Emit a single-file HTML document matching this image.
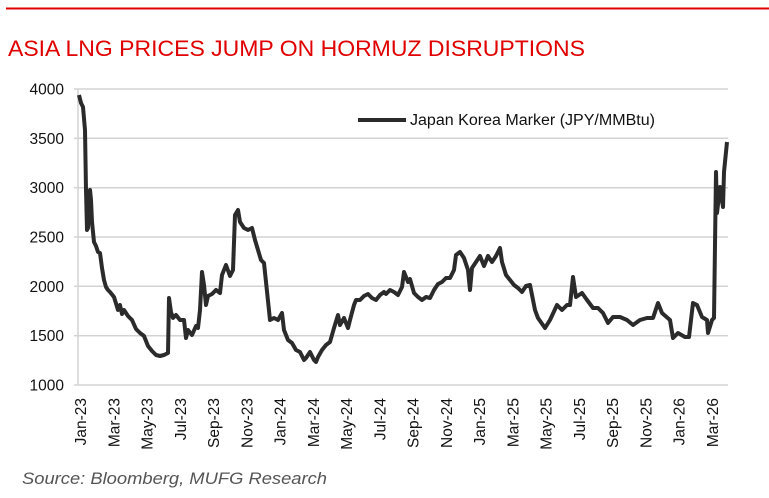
<!DOCTYPE html>
<html><head><style>
body{margin:0;background:#fff;width:769px;height:493px;overflow:hidden;font-family:"Liberation Sans",Arial,sans-serif}
</style></head><body>
<svg width="769" height="493" xmlns="http://www.w3.org/2000/svg" font-family="Liberation Sans, Arial, sans-serif">
<line x1="6" y1="8.5" x2="769" y2="8.5" stroke="#e00000" stroke-width="2"/>
<text x="8" y="56" font-size="22.5" fill="#e00000" textLength="577" lengthAdjust="spacingAndGlyphs">ASIA LNG PRICES JUMP ON HORMUZ DISRUPTIONS</text>
<g stroke="#d3d3d3" stroke-width="1.5">
<line x1="78" y1="89" x2="728" y2="89"/><line x1="78" y1="138.3" x2="728" y2="138.3"/>
<line x1="78" y1="187.7" x2="728" y2="187.7"/><line x1="78" y1="237" x2="728" y2="237"/>
<line x1="78" y1="286.3" x2="728" y2="286.3"/><line x1="78" y1="335.7" x2="728" y2="335.7"/>
<line x1="78" y1="385" x2="728" y2="385"/><line x1="78" y1="89" x2="78" y2="385"/>
<line x1="74" y1="89" x2="78" y2="89"/><line x1="74" y1="138.3" x2="78" y2="138.3"/><line x1="74" y1="187.7" x2="78" y2="187.7"/><line x1="74" y1="237" x2="78" y2="237"/><line x1="74" y1="286.3" x2="78" y2="286.3"/><line x1="74" y1="335.7" x2="78" y2="335.7"/><line x1="74" y1="385" x2="78" y2="385"/>
</g>
<g font-size="15.5" fill="#111" text-anchor="end">
<text x="64" y="94.5">4000</text><text x="64" y="144">3500</text><text x="64" y="193">3000</text><text x="64" y="242.5">2500</text><text x="64" y="292">2000</text><text x="64" y="341">1500</text><text x="64" y="390.5">1000</text>
</g>
<g font-size="15.5" fill="#111" text-anchor="end">
<text transform="translate(86,398) rotate(-90)">Jan-23</text>
<text transform="translate(119.3,398) rotate(-90)">Mar-23</text>
<text transform="translate(152.5,398) rotate(-90)">May-23</text>
<text transform="translate(185.8,398) rotate(-90)">Jul-23</text>
<text transform="translate(219,398) rotate(-90)">Sep-23</text>
<text transform="translate(252.3,398) rotate(-90)">Nov-23</text>
<text transform="translate(285.6,398) rotate(-90)">Jan-24</text>
<text transform="translate(318.8,398) rotate(-90)">Mar-24</text>
<text transform="translate(352.1,398) rotate(-90)">May-24</text>
<text transform="translate(385.3,398) rotate(-90)">Jul-24</text>
<text transform="translate(418.6,398) rotate(-90)">Sep-24</text>
<text transform="translate(451.9,398) rotate(-90)">Nov-24</text>
<text transform="translate(485.1,398) rotate(-90)">Jan-25</text>
<text transform="translate(518.4,398) rotate(-90)">Mar-25</text>
<text transform="translate(551.6,398) rotate(-90)">May-25</text>
<text transform="translate(584.9,398) rotate(-90)">Jul-25</text>
<text transform="translate(618.2,398) rotate(-90)">Sep-25</text>
<text transform="translate(651.4,398) rotate(-90)">Nov-25</text>
<text transform="translate(684.7,398) rotate(-90)">Jan-26</text>
<text transform="translate(717.9,398) rotate(-90)">Mar-26</text>
</g>
<polyline fill="none" stroke="#2b2b2b" stroke-width="4" stroke-linejoin="round" points="79,95 81,103 83,107 85,130 86,190 87,230 88,228 90,190 91,200 92,222 94,242 96,246 98,252 100,253 102,268 104,280 106,287 108,290 110,292 114,297 118,310 120,305 122,314 124,310 128,316 132,320 136,329 140,333 144,336 148,346 152,351 156,355 160,356 164,355 168,353 169,298 171,312 173,318 176,315 180,320 184,320 186,338 188,330 192,335 196,326 198,328 200,310 202,272 204,285 206,305 208,296 212,294 216,290 220,293 222,275 226,265 230,276 233,270 235,215 238,210 240,222 244,228 248,230 252,228 255,240 258,250 261,260 264,263 270,320 274,318 278,320 282,313 284,330 288,340 292,343 296,350 300,352 304,360 306,358 310,352 314,360 316,362 318,357 322,350 326,345 330,342 334,328 338,315 340,325 344,318 348,328 350,320 354,305 356,300 360,300 364,296 368,294 372,298 376,300 380,295 384,292 386,294 390,290 394,292 398,295 402,287 404,272 408,282 410,279 414,293 418,297 422,300 426,297 430,298 434,290 438,284 442,282 446,278 450,278 454,270 456,255 460,252 464,258 468,270 470,290 472,268 476,262 480,256 484,266 488,256 492,262 496,256 500,248 502,262 506,275 510,280 514,285 518,288 522,292 526,286 530,285 535,310 538,318 545,328 550,320 557,305 562,310 567,305 570,305 573,277 576,297 582,293 587,300 593,308 598,308 603,313 608,323 613,317 620,317 627,320 633,325 640,320 647,318 653,318 658,303 662,313 670,320 673,338 678,333 685,337 689,337 693,303 697,305 702,317 707,320 708,333 712,320 714,318 716,172 717,213 720,187 723,207 724,172 727,142"/>
<line x1="358" y1="120" x2="406" y2="120" stroke="#2b2b2b" stroke-width="4"/>
<text x="410" y="125" font-size="15.5" fill="#111" textLength="245" lengthAdjust="spacingAndGlyphs">Japan Korea Marker (JPY/MMBtu)</text>
<text x="22" y="484" font-size="17" font-style="italic" fill="#555" textLength="305" lengthAdjust="spacingAndGlyphs">Source: Bloomberg, MUFG Research</text>
</svg>
</body></html>
